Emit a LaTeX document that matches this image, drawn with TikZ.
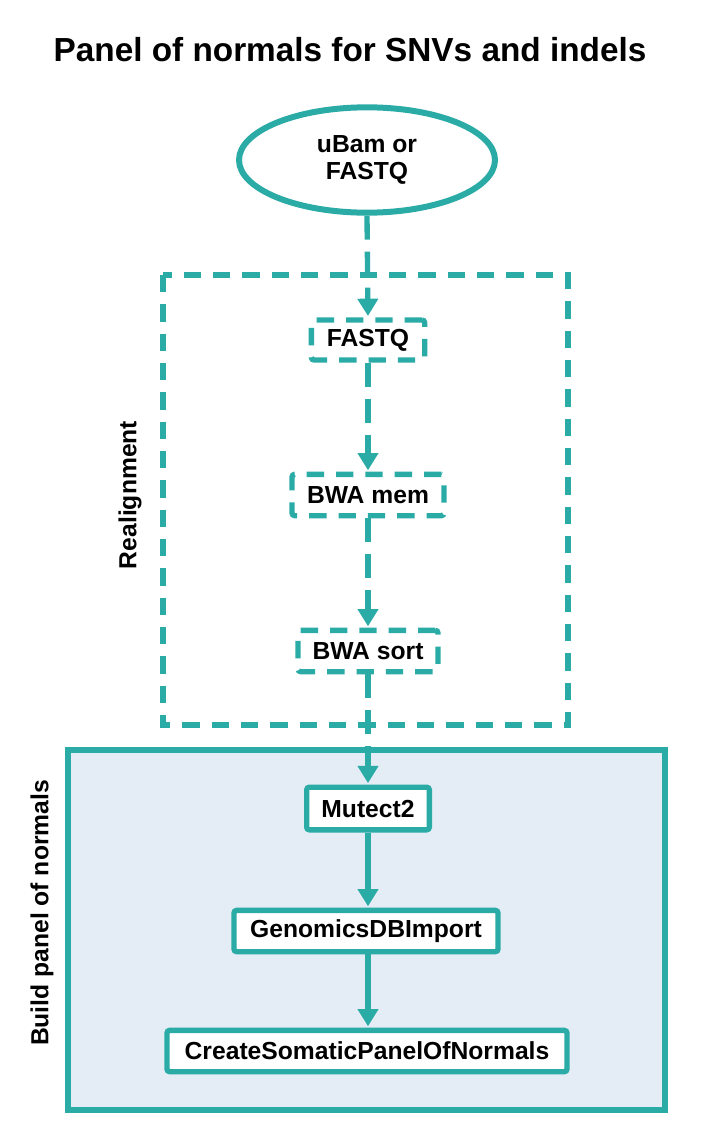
\documentclass[tikz,border=0pt]{standalone}
\usepackage{fontspec}
\setmainfont{Liberation Sans}
\usepackage{tikz}
\usetikzlibrary{arrows.meta,positioning,calc,shapes.geometric}
\usepackage{xcolor}
\definecolor{pteal}{RGB}{42,171,166}
\definecolor{pbg}{RGB}{228,237,245}
\tikzset{>={Triangle[width=15pt,length=13pt]}}
\tikzset{
  lbl/.style={font=\fontsize{18.5}{22}\selectfont\bfseries},
  stepsolid/.style={lbl,draw=pteal,line width=4pt,fill=white,rounded corners=2pt,inner sep=0pt},
  stepdash/.style={stepsolid,fill=none,dash pattern=on 13pt off 9pt},
  flow/.style={->,draw=pteal,line width=4pt,shorten >=1pt},
  flowdash/.style={flow,dash pattern=on 18pt off 9pt}
}

\begin{document}
\begin{tikzpicture}[x=0.75pt,y=-0.75pt]
\useasboundingbox (0,0) rectangle (703,1125);

% Titel
\node[font=\fontsize{25}{30}\selectfont\bfseries] (title) at (350,50) {Panel of normals for SNVs and indels};

% Kaesten
\draw[pteal,line width=4pt,fill=pbg] (68,750) rectangle (665,1110);
\draw[pteal,line width=4pt,dash pattern=on 13pt off 9pt] (163,275) rectangle (568,725);
\node[lbl,rotate=90] (realign) at (130,495) {Realignment};
\node[lbl,rotate=90] (buildpon) at (42,913) {Build panel of normals};

% Schritte
\node[lbl,ellipse,draw=pteal,line width=4.5pt,minimum width=192pt,minimum height=79pt,inner sep=0pt,align=center] (ubam) at (367,160) {uBam or\\[-2pt]FASTQ};
\node[stepdash,minimum width=85pt,minimum height=30pt] (fastq) at (368,340) {FASTQ};
\node[stepdash,minimum width=114pt,minimum height=31pt] (bwamem) at (368,495) {BWA mem};
\node[stepdash,minimum width=105pt,minimum height=31pt] (bwasort) at (368,651) {BWA sort};
\node[stepsolid,minimum width=92pt,minimum height=32pt] (mutect) at (368,808.5) {Mutect2};
\node[stepsolid,minimum width=198pt,minimum height=31pt] (gdbimport) at (366,931) {GenomicsDBImport};
\node[stepsolid,minimum width=300pt,minimum height=31pt] (createpon) at (367,1051) {CreateSomaticPanelOfNormals};

% Pfeile
\draw[flowdash] (ubam.south) -- (fastq.north);
\draw[flowdash] (fastq.south) -- (bwamem.north);
\draw[flowdash] (bwamem.south) -- (bwasort.north);
\draw[flowdash] (bwasort.south) -- (mutect.north);
\draw[flow] (mutect.south) -- (gdbimport.north -| mutect.south);
\draw[flow] (gdbimport.south -| mutect.south) -- (createpon.north -| mutect.south);

\end{tikzpicture}
\end{document}
